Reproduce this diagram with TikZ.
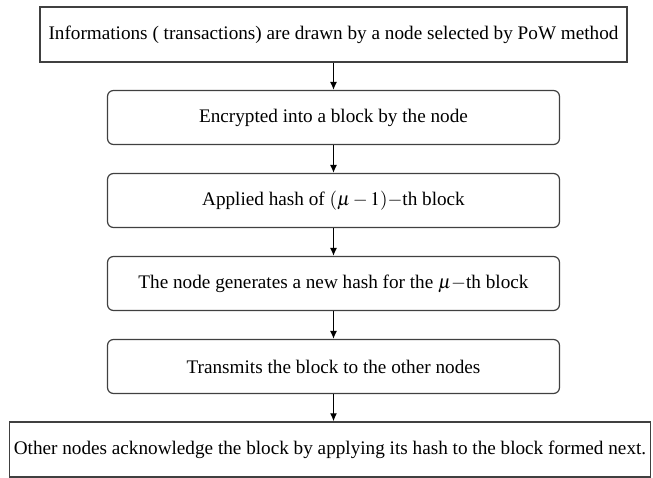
\documentclass[tikz,border=0pt]{standalone}
\usepackage{mathptmx}
\usepackage{fontspec}
\setmainfont{Liberation Serif}
\usetikzlibrary{arrows.meta}
\tikzset{>={Latex[length=8pt,width=7pt]}}

\begin{document}
\begin{tikzpicture}[font=\fontsize{19.2}{22}\selectfont, node distance=83pt]
  % sq = square box (first and last step), rb = rounded box (middle steps)
  \tikzstyle{sq}=[draw=black!75, line width=1.4pt, minimum height=55pt, inner sep=0pt]
  \tikzstyle{rb}=[draw=black!75, line width=1.2pt, rounded corners=6pt, minimum width=452pt, minimum height=54pt, inner sep=0pt]
  \tikzstyle{every edge}=[draw, black, ->, line width=1.3pt]
  \useasboundingbox (0,0) rectangle (653pt,-478pt);

  \node[sq, minimum width=587pt] (info) at (333.5pt,-34.5pt) {Informations ( transactions) are drawn by a node selected by PoW method};
  \node[rb] (encr) [below of = info] {Encrypted into a block by the node};
  \draw (info) edge (encr);
  \node[rb] (hash) [below of = encr] {Applied hash of $(\mu-1)$$-$th block};
  \draw (encr) edge (hash);
  \node[rb] (gen) [below of = hash] {The node generates a new hash for the $\mu$$-$th block};
  \draw (hash) edge (gen);
  \node[rb] (trans) [below of = gen] {Transmits the block to the other nodes};
  \draw (gen) edge (trans);
  \node[sq, minimum width=641pt, xshift=-3.5pt] (ack) [below of = trans] {Other nodes acknowledge the block by applying its hash to the block formed next.};
  \draw (trans.south) edge (trans.south |- ack.north);
\end{tikzpicture}
\end{document}
